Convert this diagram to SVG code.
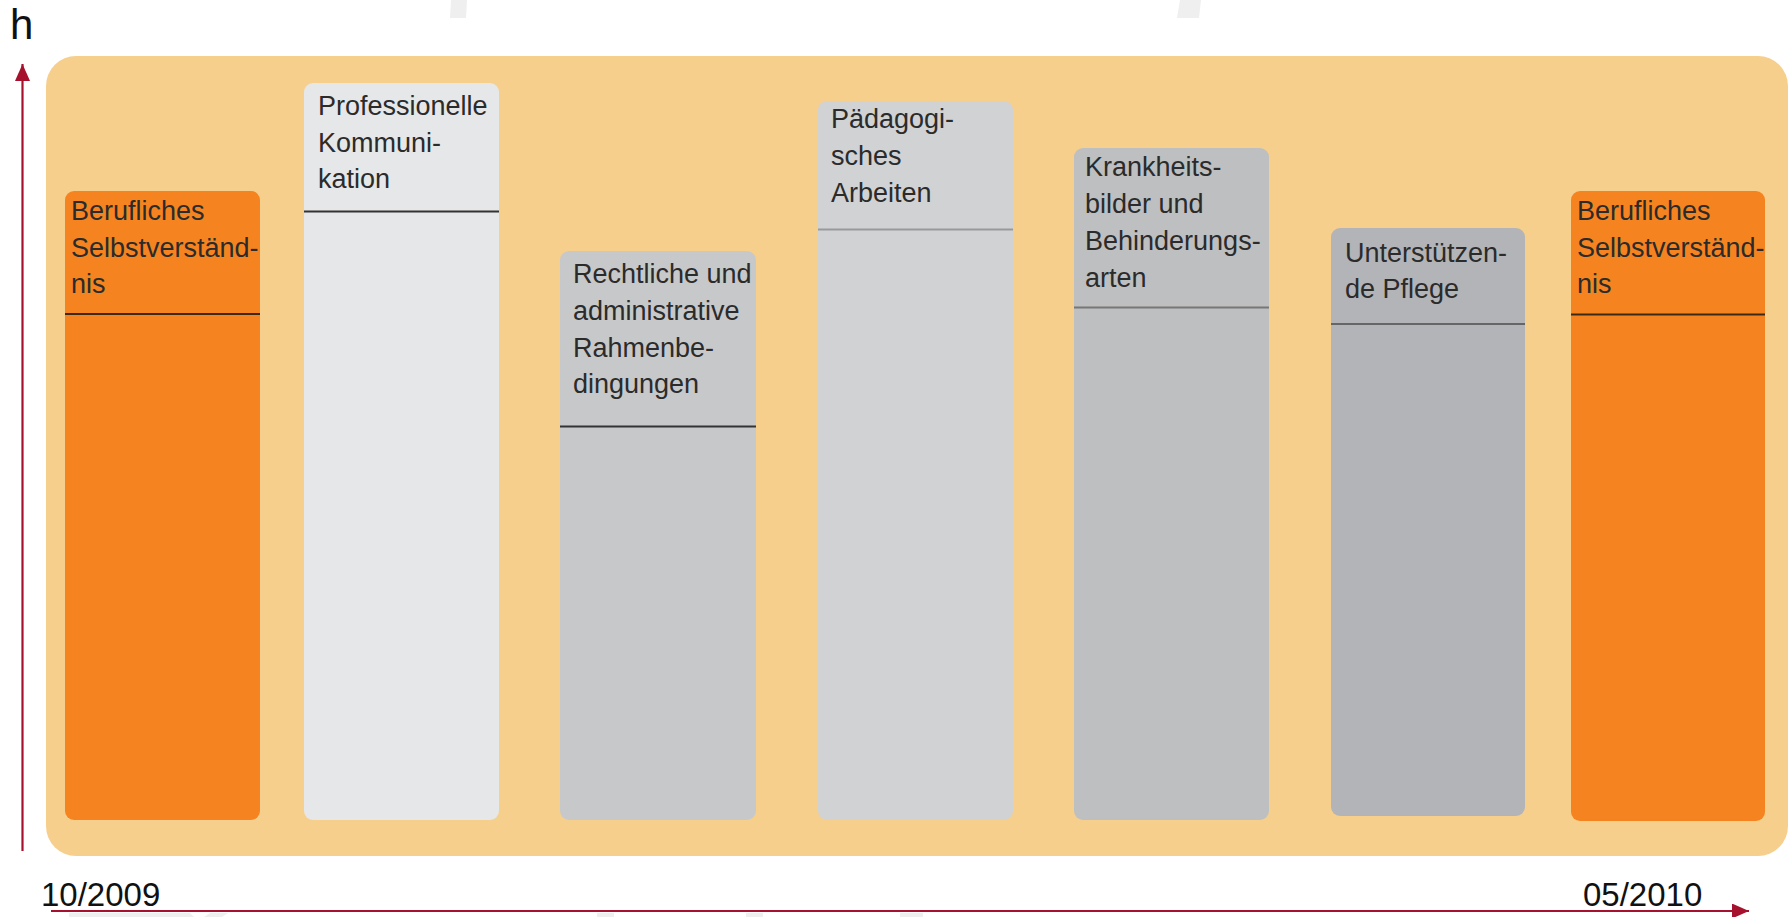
<svg xmlns="http://www.w3.org/2000/svg" width="1791" height="917" viewBox="0 0 1791 917">
  <style>
    .lbl { font-family: "Liberation Sans", Arial, sans-serif; font-size: 27px; fill: #2b2b2b; }
    .axis-lbl { font-family: "Liberation Sans", Arial, sans-serif; font-size: 33px; fill: #111111; }
    .axis { stroke: #A6122E; stroke-width: 2.2; fill: none; }
    .sep { stroke-width: 2.2; }
    .wm { fill: #EFEFEF; }
  </style>
  <defs>
    <marker id="arr" viewBox="0 0 17 15" refX="17" refY="7.5" markerWidth="17" markerHeight="15" markerUnits="userSpaceOnUse" orient="auto">
      <path d="M0,0 L17,7.5 L0,15 Z" fill="#A6122E"/>
    </marker>
  </defs>
  <rect width="1791" height="917" fill="#FFFFFF"/>

  <!-- faint watermark fragments -->
  <g id="watermark">
    <polygon class="wm" points="451,0 467,0 466,18 450,18"/>
    <polygon class="wm" points="1180,0 1201,0 1199,18 1177,18"/>
    <polygon class="wm" points="69,913 190,913 194,917 69,917"/>
    <polygon class="wm" points="210,913 228,913 222,917 204,917"/>
    <polygon class="wm" points="597,913 614,913 614,917 597,917"/>
    <polygon class="wm" points="746,913 763,913 763,917 746,917"/>
    <polygon class="wm" points="900,913 923,913 923,917 900,917"/>
  </g>

  <g id="background">
    <rect x="46" y="56" width="1742" height="800" rx="30" ry="30" fill="#F7CF8D"/>
  </g>

  <g id="node-berufliches-1">
    <rect x="65" y="191" width="195" height="629" rx="9" fill="#F58420"/>
    <line class="sep" x1="65" y1="314" x2="260" y2="314" stroke="#3a2a1c"/>
    <text class="lbl" x="71" y="220">Berufliches</text>
    <text class="lbl" x="71" y="256.5">Selbstverständ-</text>
    <text class="lbl" x="71" y="293">nis</text>
  </g>

  <g id="node-kommunikation">
    <rect x="304" y="83" width="195" height="737" rx="9" fill="#E6E7E8"/>
    <line class="sep" x1="304" y1="211.5" x2="499" y2="211.5" stroke="#333333"/>
    <text class="lbl" x="318" y="115">Professionelle</text>
    <text class="lbl" x="318" y="151.7">Kommuni-</text>
    <text class="lbl" x="318" y="188.3">kation</text>
  </g>

  <g id="node-rechtliche">
    <rect x="560" y="251" width="196" height="569" rx="9" fill="#C7C8CA"/>
    <line class="sep" x1="560" y1="426.5" x2="756" y2="426.5" stroke="#333333"/>
    <text class="lbl" x="573" y="282.7">Rechtliche und</text>
    <text class="lbl" x="573" y="320">administrative</text>
    <text class="lbl" x="573" y="356.7">Rahmenbe-</text>
    <text class="lbl" x="573" y="393.3">dingungen</text>
  </g>

  <g id="node-paedagogik">
    <rect x="818" y="101" width="195" height="719" rx="9" fill="#D1D2D4"/>
    <line class="sep" x1="818" y1="229.5" x2="1013" y2="229.5" stroke="#999999"/>
    <text class="lbl" x="831" y="128.3">Pädagogi-</text>
    <text class="lbl" x="831" y="165">sches</text>
    <text class="lbl" x="831" y="201.7">Arbeiten</text>
  </g>

  <g id="node-krankheitsbilder">
    <rect x="1074" y="148" width="195" height="672" rx="9" fill="#BEBFC1"/>
    <line class="sep" x1="1074" y1="307.5" x2="1269" y2="307.5" stroke="#777777"/>
    <text class="lbl" x="1085" y="176">Krankheits-</text>
    <text class="lbl" x="1085" y="212.7">bilder und</text>
    <text class="lbl" x="1085" y="250">Behinderungs-</text>
    <text class="lbl" x="1085" y="286.7">arten</text>
  </g>

  <g id="node-pflege">
    <rect x="1331" y="228" width="194" height="588" rx="9" fill="#B3B4B7"/>
    <line class="sep" x1="1331" y1="324" x2="1525" y2="324" stroke="#666666"/>
    <text class="lbl" x="1345" y="261.7">Unterstützen-</text>
    <text class="lbl" x="1345" y="298.3">de Pflege</text>
  </g>

  <g id="node-berufliches-2">
    <rect x="1571" y="191" width="194" height="630" rx="9" fill="#F58420"/>
    <line class="sep" x1="1571" y1="314.5" x2="1765" y2="314.5" stroke="#3a2a1c"/>
    <text class="lbl" x="1577" y="220">Berufliches</text>
    <text class="lbl" x="1577" y="256.5">Selbstverständ-</text>
    <text class="lbl" x="1577" y="293">nis</text>
  </g>

  <g id="connectors">
    <line class="axis" x1="22.5" y1="851" x2="22.5" y2="64" marker-end="url(#arr)"/>
    <line class="axis" x1="51" y1="911" x2="1749" y2="911" marker-end="url(#arr)"/>
  </g>

  <g id="axis-labels">
    <text x="10" y="39" font-family="Liberation Sans, Arial, sans-serif" font-size="42" fill="#111111">h</text>
    <text class="axis-lbl" x="41" y="906">10/2009</text>
    <text class="axis-lbl" x="1583" y="906">05/2010</text>
  </g>
</svg>
